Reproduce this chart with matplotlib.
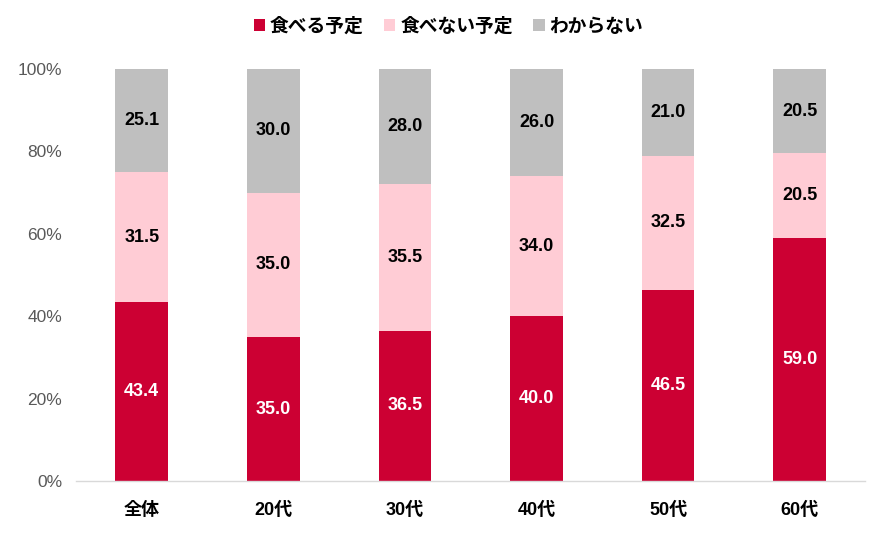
import matplotlib
matplotlib.use("Agg")
import matplotlib.pyplot as plt
import numpy as np

plt.rcParams['font.family'] = ['Liberation Sans', 'Noto Sans CJK JP', 'DejaVu Sans']

categories = ['全体', '20代', '30代', '40代', '50代', '60代']
series_names = ['食べる予定', '食べない予定', 'わからない']
eat = [43.4, 35.0, 36.5, 40.0, 46.5, 59.0]
not_eat = [31.5, 35.0, 35.5, 34.0, 32.5, 20.5]
unknown = [25.1, 30.0, 28.0, 26.0, 21.0, 20.5]
yticks = [0, 20, 40, 60, 80, 100]
ytick_labels = ['0%', '20%', '40%', '60%', '80%', '100%']

colors = ['#CC0033', '#FFCCD5', '#BFBFBF']
label_colors = ['white', 'black', 'black']

fig = plt.figure(figsize=(8.88, 5.37), dpi=100)
ax = fig.add_axes([0.0856, 0.104, 0.889, 0.7675])

x = np.arange(len(categories))
bottom = np.zeros(len(categories))
handles = []
for vals, c, lc, name in zip([eat, not_eat, unknown], colors, label_colors, series_names):
    vals = np.array(vals)
    b = ax.bar(x, vals, 0.4, bottom=bottom, color=c, label=name, zorder=2)
    handles.append(b)
    for xi, v, bt in zip(x, vals, bottom):
        ax.text(xi, bt + v / 2, f'{v:.1f}', ha='center', va='center',
                color=lc, fontsize=13, fontweight='bold', zorder=3)
    bottom += vals

ax.set_xlim(-0.5, len(categories) - 0.5)
ax.set_ylim(0, 100)
ax.set_yticks(yticks)
ax.set_yticklabels(ytick_labels, fontsize=12.5, color='#595959')
ax.set_xticks(x)
ax.set_xticklabels(categories, fontsize=13, fontweight='bold', color='black')
ax.tick_params(axis='both', length=0)
ax.tick_params(axis='x', pad=15)
ax.tick_params(axis='y', pad=10)
for s in ['top', 'right', 'left']:
    ax.spines[s].set_visible(False)
ax.spines['bottom'].set_color('#D9D9D9')
ax.spines['bottom'].set_linewidth(1.0)

leg = fig.legend(handles=handles, labels=series_names, loc='center',
                 bbox_to_anchor=(0.505, 0.95), ncol=3, frameon=False,
                 fontsize=13.5, handlelength=0.6, handleheight=0.6,
                 handletextpad=0.25, columnspacing=1.1)
for t in leg.get_texts():
    t.set_fontweight('bold')

fig.savefig('out.png', dpi=100)
